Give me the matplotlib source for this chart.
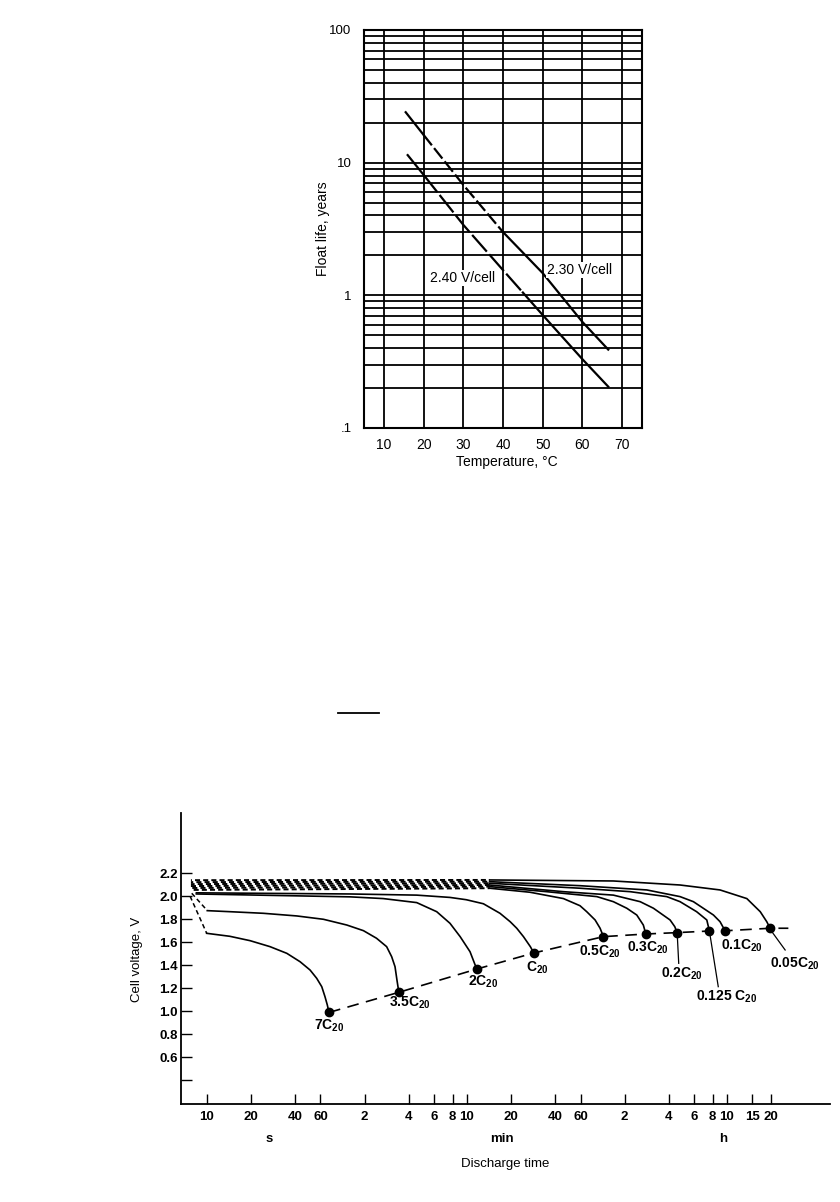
import numpy as np
import matplotlib
matplotlib.use("Agg")
import matplotlib.pyplot as plt
from matplotlib.lines import Line2D
from matplotlib.ticker import FixedLocator, NullFormatter, NullLocator

plt.rcParams['font.family'] = ['Liberation Sans', 'DejaVu Sans']
plt.rcParams['mathtext.fontset'] = 'custom'
plt.rcParams['mathtext.rm'] = 'Liberation Sans:bold'
plt.rcParams['mathtext.it'] = 'Liberation Sans:bold:italic'
plt.rcParams['mathtext.bf'] = 'Liberation Sans:bold'

# ---------------- data: float life vs temperature ----------------
temp_230 = [15.5, 20, 30, 40, 50, 60, 66.5]
life_230 = [24, 16.2, 6.8, 3.0, 1.47, 0.63, 0.39]
temp_240 = [16, 20, 30, 40, 45, 50, 60, 66.5]
life_240 = [11.4, 8.1, 3.4, 1.55, 1.05, 0.71, 0.33, 0.205]

temp_ticks = [10, 20, 30, 40, 50, 60, 70]
life_ticks = [0.1, 1, 10, 100]
life_tick_labels = ['.1', '1', '10', '100']

# ---------------- data: discharge curves (time in s, voltage in V) ----------------
time_7c = [7.7, 10, 14.4, 19.8, 27.1, 35.3, 43.5, 50.9, 56.5, 61.2, 64.4, 66.8, 68.6]
volt_7c = [2.0, 1.678, 1.652, 1.614, 1.562, 1.504, 1.431, 1.359, 1.287, 1.214, 1.127, 1.055, 0.99]
time_3c5 = [7.9, 10.1, 14.4, 24.4, 41.3, 62.8, 90.8, 118, 145, 170, 184, 194, 200, 206]
volt_3c5 = [2.026, 1.875, 1.866, 1.852, 1.829, 1.80, 1.75, 1.701, 1.635, 1.562, 1.475, 1.388, 1.272, 1.165]
time_2c = [8.5, 95.6, 161, 273, 374, 461, 541, 632, 685, 706]
volt_2c = [2.02, 1.995, 1.98, 1.945, 1.866, 1.765, 1.649, 1.518, 1.403, 1.368]
time_1c = [8.5, 95.6, 273, 461, 596, 780, 1013, 1189, 1319, 1466, 1634, 1726]
volt_1c = [2.03, 2.02, 2.01, 1.99, 1.97, 1.935, 1.852, 1.779, 1.722, 1.649, 1.562, 1.507]
time_05c = [7.8, 860, 1626, 2750, 3570, 3970, 4530, 4900, 5164]
volt_05c = [2.055, 2.07, 2.035, 1.98, 1.918, 1.866, 1.794, 1.722, 1.649]
time_03c = [7.8, 860, 2110, 4660, 6040, 7460, 8730, 9680, 10070]
volt_03c = [2.072, 2.084, 2.04, 1.997, 1.953, 1.896, 1.837, 1.75, 1.672]
time_02c = [7.8, 860, 2750, 6040, 9210, 11350, 14750, 15880, 16490]
volt_02c = [2.089, 2.098, 2.04, 2.01, 1.953, 1.896, 1.794, 1.736, 1.684]
time_0125c = [7.8, 860, 3570, 7870, 14000, 17260, 22400, 26300, 27400]
volt_0125c = [2.106, 2.113, 2.07, 2.04, 1.997, 1.953, 1.866, 1.794, 1.698]
time_01c = [7.8, 860, 3570, 10230, 17260, 21300, 29200, 32400, 35070]
volt_01c = [2.123, 2.127, 2.092, 2.055, 1.997, 1.953, 1.837, 1.779, 1.70]
time_005c = [7.8, 860, 6040, 17260, 32400, 49400, 61000, 67600, 71300]
volt_005c = [2.14, 2.142, 2.133, 2.098, 2.055, 1.98, 1.866, 1.779, 1.722]

rate_names = ['7C$_{20}$', '3.5C$_{20}$', '2C$_{20}$', 'C$_{20}$', '0.5C$_{20}$',
              '0.3C$_{20}$', '0.2C$_{20}$', '0.125 C$_{20}$', '0.1C$_{20}$', '0.05C$_{20}$']
rate_times = [time_7c, time_3c5, time_2c, time_1c, time_05c, time_03c,
              time_02c, time_0125c, time_01c, time_005c]
rate_volts = [volt_7c, volt_3c5, volt_2c, volt_1c, volt_05c, volt_03c,
              volt_02c, volt_0125c, volt_01c, volt_005c]
# how many leading points of each curve are drawn dashed
dashed_points = [2, 2, 0, 0, 2, 2, 2, 2, 2, 2]

cutoff_tail_time = 95000
cutoff_tail_volt = 1.722

time_ticks = [10, 20, 40, 60, 120, 240, 360, 480, 600, 1200, 2400, 3600,
              7200, 14400, 21600, 28800, 36000, 54000, 72000]
time_tick_labels = ['10', '20', '40', '60', '2', '4', '6', '8', '10', '20', '40', '60',
                    '2', '4', '6', '8', '10', '15', '20']
volt_ticks = [0.4, 0.6, 0.8, 1.0, 1.2, 1.4, 1.6, 1.8, 2.0, 2.2]
volt_tick_labels = ['', '0.6', '0.8', '1.0', '1.2', '1.4', '1.6', '1.8', '2.0', '2.2']

W, H = 840, 1202
fig = plt.figure(figsize=(W / 100, H / 100), dpi=100)

# ---------------- top chart ----------------
ax1 = fig.add_axes([364 / W, 1 - 428 / H, 278 / W, 398 / H])
ax1.set_yscale('log')
ax1.set_xlim(5, 75)
ax1.set_ylim(0.1, 100)
ax1.xaxis.set_major_locator(FixedLocator(temp_ticks))
ax1.yaxis.set_major_locator(FixedLocator(life_ticks))
ax1.set_yticklabels(life_tick_labels)
minor = [m * d for d in [0.1, 1, 10] for m in range(2, 10)]
ax1.yaxis.set_minor_locator(FixedLocator(minor))
ax1.yaxis.set_minor_formatter(NullFormatter())
ax1.grid(True, which='both', axis='y', color='black', lw=1.3)
ax1.grid(True, which='major', axis='x', color='black', lw=1.3)
ax1.tick_params(which='both', length=0)
ax1.tick_params(axis='y', pad=9, labelsize=9.5)
ax1.tick_params(axis='x', pad=7, labelsize=10)
for s in ax1.spines.values():
    s.set_linewidth(1.5)

t230 = np.array(temp_230)
l230 = np.array(life_230)
t240 = np.array(temp_240)
l240 = np.array(life_240)

m = t230 <= 20
ax1.plot(t230[m], l230[m], color='black', lw=1.6, zorder=3)
m = (t230 >= 20) & (t230 <= 40)
ax1.plot(t230[m], l230[m], color='black', lw=1.6, dashes=(6, 1.6), zorder=3)
m = t230 >= 40
ax1.plot(t230[m], l230[m], color='black', lw=1.6, zorder=3)

m = t240 <= 20
ax1.plot(t240[m], l240[m], color='black', lw=1.6, zorder=3)
m = (t240 >= 20) & (t240 <= 45)
ax1.plot(t240[m], l240[m], color='black', lw=1.6, dashes=(10, 1.6), zorder=3)
m = t240 >= 45
ax1.plot(t240[m], l240[m], color='black', lw=1.6, zorder=3)

ax1.text(51.2, 1.55, '2.30 V/cell', fontsize=10, va='center', ha='left',
         bbox=dict(facecolor='white', edgecolor='none', pad=1), zorder=4)
ax1.text(21.7, 1.35, '2.40 V/cell', fontsize=10, va='center', ha='left',
         bbox=dict(facecolor='white', edgecolor='none', pad=1), zorder=4)
ax1.text(0.515, -0.085, 'Temperature, °C', transform=ax1.transAxes,
         ha='center', va='center', fontsize=10)
ax1.text(-0.146, 0.5, 'Float life, years', transform=ax1.transAxes,
         ha='center', va='center', rotation=90, fontsize=10)

# stray mark on the page
fig.add_artist(Line2D([338 / W, 379 / W], [1 - 713.3 / H] * 2, color='black', lw=1.3))

# ---------------- bottom chart ----------------
ax2 = fig.add_axes([180.7 / W, 1 - 1104 / H, 649.3 / W, 291 / H])
ax2.set_xscale('log')
ax2.set_xlim(6.64, 183000)
ax2.set_ylim(0.194, 2.724)
ax2.spines['top'].set_visible(False)
ax2.spines['right'].set_visible(False)
ax2.spines['left'].set_linewidth(1.3)
ax2.spines['bottom'].set_linewidth(1.3)
ax2.xaxis.set_major_locator(FixedLocator(time_ticks))
ax2.xaxis.set_minor_locator(NullLocator())
ax2.set_xticklabels(time_tick_labels)
ax2.yaxis.set_major_locator(FixedLocator(volt_ticks))
ax2.set_yticklabels(volt_tick_labels)
ax2.tick_params(axis='x', direction='in', length=7, width=1.0, pad=5, labelsize=9.5)
ax2.tick_params(axis='y', direction='in', length=8, width=1.0, pad=2, labelsize=9.5)
for lab in ax2.get_xticklabels() + ax2.get_yticklabels():
    lab.set_fontweight('bold')

for i, (t, v, nd) in enumerate(zip(rate_times, rate_volts, dashed_points)):
    if nd and t[1] > 100:
        # the crowded hatched band of the low-rate curves
        ax2.plot(t[:nd], v[:nd], color='black', lw=1.4,
                 linestyle=(i * 0.7, (2.6, 1.6)))
        ax2.plot(t[nd - 1:], v[nd - 1:], color='black', lw=1.2)
    elif nd:
        ax2.plot(t[:nd], v[:nd], color='black', lw=1.1, dashes=(3, 2))
        ax2.plot(t[nd - 1:], v[nd - 1:], color='black', lw=1.2)
    else:
        ax2.plot(t, v, color='black', lw=1.2)

end_t = [t[-1] for t in rate_times] + [cutoff_tail_time]
end_v = [v[-1] for v in rate_volts] + [cutoff_tail_volt]
ax2.plot(end_t, end_v, color='black', lw=1.2, dashes=(7, 4.5))
ax2.plot(end_t[:-1], end_v[:-1], 'o', color='black', ms=6)

label_pos = [(68.6, 0.87), (246, 1.07), (780, 1.257), (1824, 1.374), (4900, 1.518),
             (10470, 1.548), (17740, 1.33), (35650, 1.127), (45600, 1.57), (105700, 1.417)]
for name, (lx, ly) in zip(rate_names, label_pos):
    ax2.text(lx, ly, name, ha='center', va='center', fontsize=10, fontweight='bold')

# leader lines for the crowded labels
ax2.plot([16490, 16900], [1.684, 1.417], color='black', lw=0.9)
ax2.plot([27400, 31500], [1.698, 1.214], color='black', lw=0.9)
ax2.plot([72500, 90300], [1.70, 1.533], color='black', lw=0.9)

ax2.text(26.6, -0.1186, 's', transform=ax2.get_xaxis_transform(), ha='center', va='center',
         fontsize=9.5, fontweight='bold')
ax2.text(1038, -0.1186, 'min', transform=ax2.get_xaxis_transform(), ha='center', va='center',
         fontsize=9.5, fontweight='bold')
ax2.text(33800, -0.1186, 'h', transform=ax2.get_xaxis_transform(), ha='center', va='center',
         fontsize=9.5, fontweight='bold')
ax2.text(0.5, -0.2045, 'Discharge time', transform=ax2.transAxes, ha='center', va='center',
         fontsize=9.5)
ax2.text(-0.0668, 0.498, 'Cell voltage, V', transform=ax2.transAxes, ha='center', va='center',
         rotation=90, fontsize=9.5)

fig.savefig('out.png', dpi=100)
